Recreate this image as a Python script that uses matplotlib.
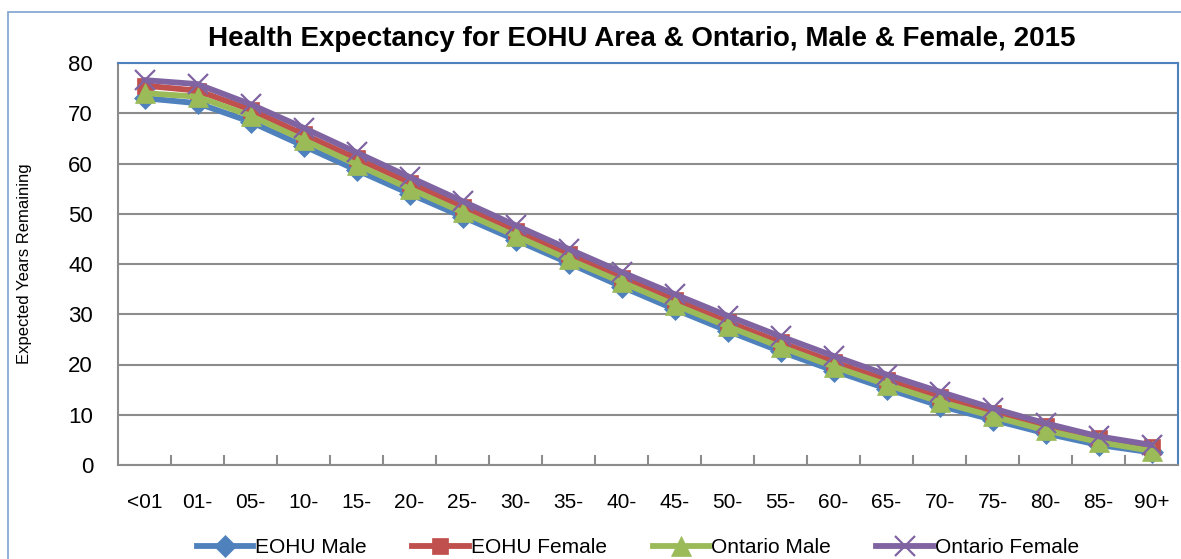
import numpy as np
import matplotlib.pyplot as plt
from matplotlib.patches import Rectangle

# data
age_groups = ['<01', '01-', '05-', '10-', '15-', '20-', '25-', '30-', '35-', '40-',
              '45-', '50-', '55-', '60-', '65-', '70-', '75-', '80-', '85-', '90+']
eohu_male = [73.0, 72.0, 68.3, 63.5, 58.7, 54.0, 49.4, 44.8, 40.2, 35.5,
             31.0, 26.7, 22.6, 18.8, 15.2, 11.8, 9.0, 6.3, 4.0, 2.5]
eohu_female = [75.5, 74.5, 70.7, 65.8, 61.0, 56.2, 51.4, 46.6, 41.9, 37.3,
               32.9, 28.5, 24.4, 20.5, 16.9, 13.5, 10.4, 7.7, 5.3, 3.5]
ontario_male = [74.0, 73.3, 69.5, 64.7, 59.8, 55.0, 50.3, 45.6, 40.9, 36.4,
                31.9, 27.6, 23.5, 19.6, 16.0, 12.6, 9.7, 6.9, 4.6, 2.8]
ontario_female = [76.6, 75.8, 71.8, 67.1, 62.2, 57.3, 52.5, 47.7, 43.0, 38.4,
                  34.0, 29.7, 25.6, 21.7, 18.0, 14.6, 11.3, 8.3, 5.7, 4.0]

plt.rcParams['font.family'] = ['Liberation Sans', 'DejaVu Sans']

fig = plt.figure(figsize=(11.81, 5.59), dpi=100)

# outer chart frame
fig.patches.append(Rectangle((8 / 1181, -0.1), 1.2, 0.1 + (559 - 12) / 559,
                             transform=fig.transFigure, fill=False,
                             edgecolor='#7FA3CF', linewidth=1.2))

ax = fig.add_axes([118 / 1181, 94 / 559, 1060 / 1181, 402 / 559])
x = np.arange(len(age_groups))

series = [
    ('EOHU Male', eohu_male, '#4F81BD', 'D', 11),
    ('EOHU Female', eohu_female, '#C0504D', 's', 12),
    ('Ontario Male', ontario_male, '#9BBB59', '^', 14),
    ('Ontario Female', ontario_female, '#8064A2', 'x', 14),
]
for name, vals, col, mk, ms in series:
    ax.plot(x, vals, color=col, linewidth=4.2, marker=mk, markersize=ms,
            markeredgewidth=1.6 if mk == 'x' else 0.5, markeredgecolor=col, label=name)

ax.set_xlim(-0.5, len(age_groups) - 0.5)
ax.set_ylim(0, 80)
ax.set_yticks(range(0, 81, 10))
ax.yaxis.grid(True, color='#8C8C8C', linewidth=1.5)
ax.set_axisbelow(True)
ax.tick_params(axis='y', length=0, labelsize=16, pad=18)
ax.set_xticks(x)
ax.set_xticklabels(age_groups)
ax.set_xticks(np.arange(0.5, len(age_groups) - 1, 1), minor=True)
ax.tick_params(axis='x', which='major', length=0, labelsize=15, pad=20)
ax.tick_params(axis='x', which='minor', direction='in', length=7, color='#8C8C8C', width=1.5)

for s in ['left', 'bottom']:
    ax.spines[s].set_color('#8C8C8C')
    ax.spines[s].set_linewidth(1.5)
for s in ['top', 'right']:
    ax.spines[s].set_color('#4F81BD')
    ax.spines[s].set_linewidth(1.5)

ax.set_ylabel('Expected Years Remaining', fontsize=12)
ax.yaxis.set_label_coords(-0.081, 0.5)

fig.text(0.543, 0.93, 'Health Expectancy for EOHU Area & Ontario, Male & Female, 2015',
         ha='center', va='center', fontsize=20, fontweight='bold')

fig.legend(loc='center', bbox_to_anchor=(0.54, 0.02), ncol=4, frameon=False,
           fontsize=15, handlelength=2.7, handletextpad=0.1, columnspacing=2.2)

fig.savefig('out.png', dpi=100)
